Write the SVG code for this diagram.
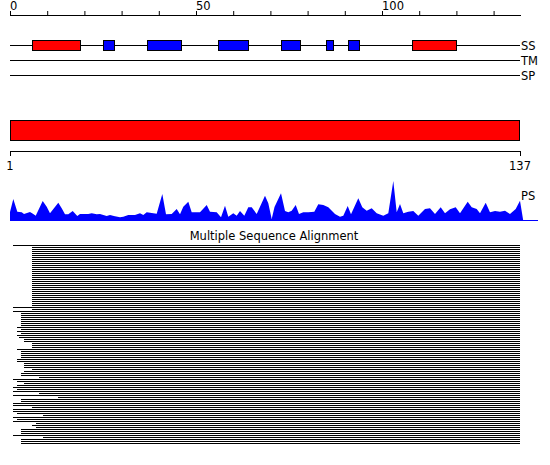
<svg xmlns="http://www.w3.org/2000/svg" width="550" height="465" viewBox="0 0 550 465">
<style>
text{font-family:"DejaVu Sans",Verdana,sans-serif;font-size:11.5px;fill:#000}
.ln{stroke:#000;stroke-width:1;fill:none}
.red{fill:#ff0000;stroke:#000;stroke-width:1}
.blue{fill:#0000ff;stroke:#000;stroke-width:1}
</style>
<rect width="550" height="465" fill="#fff"/>
<g id="ruler">
<path class="ln" d="M10,15.5H521 M10.5,11V15 M47.7,11V15 M84.9,11V15 M122.1,11V15 M159.3,11V15 M196.5,11V15 M233.7,11V15 M270.9,11V15 M308.1,11V15 M345.3,11V15 M382.5,11V15 M419.7,11V15 M456.9,11V15 M494.1,11V15"/>
<text x="10" y="10">0</text>
<text x="196" y="10">50</text>
<text x="382" y="10">100</text>
</g>
<g id="tracks">
<path class="ln" d="M10,45.5H520 M10,60.5H520 M10,75.5H520"/>
<rect class="red" x="32.5" y="40.5" width="48" height="10"/>
<rect class="blue" x="103.5" y="40.5" width="11" height="10"/>
<rect class="blue" x="147.5" y="40.5" width="34" height="10"/>
<rect class="blue" x="218.5" y="40.5" width="30" height="10"/>
<rect class="blue" x="281.5" y="40.5" width="19" height="10"/>
<rect class="blue" x="326.5" y="40.5" width="7" height="10"/>
<rect class="blue" x="348.5" y="40.5" width="11" height="10"/>
<rect class="red" x="412.5" y="40.5" width="44" height="10"/>
<text x="521" y="50">SS</text>
<text x="521" y="65">TM</text>
<text x="521" y="80">SP</text>
</g>
<g id="domain">
<rect class="red" x="10.5" y="120.5" width="509" height="20"/>
<path class="ln" d="M10,151.5H521 M10.5,151V156 M520.5,151V156"/>
<text x="10" y="170" text-anchor="middle">1</text>
<text x="520" y="170" text-anchor="middle">137</text>
</g>
<g id="ps">
<path fill="#0000ff" d="M10,221 L10,212 L13.3,199 L17.3,211.7 L21.7,212.3 L24,214 L30,212 L33.3,214 L35.7,215.7 L42.7,201 L46.7,206.7 L50,213.3 L58.3,202.7 L61.7,208.3 L65,214.3 L68.3,214.3 L72.7,211 L77.3,216 L80,214 L88.3,214 L91.7,213.3 L96.7,214.3 L100,214 L106.7,216 L110,215 L115,216.3 L120,217.3 L123.3,216.7 L128.3,215 L135,215 L140,213.3 L143.3,215 L146.7,212.3 L156.7,213.7 L162.3,194 L166,214.3 L171.7,214 L176.7,209 L180,214.3 L183.3,206.7 L188.3,201.7 L191.7,212.3 L200,212.3 L206.7,205 L210,211.7 L216.7,212.3 L221,217.3 L225,205.7 L228.3,216.7 L233.3,213.3 L236.7,215.7 L240,211 L244.3,215.7 L248.3,207.3 L251.7,207.3 L256.7,214 L265,195.7 L268.3,203.3 L271.7,219 L274.5,207 L281,193.3 L285,211 L288.3,212.3 L291.7,210.7 L295.7,205 L299,214 L303.3,212.3 L308.3,212.3 L314.3,211.7 L318.3,204.3 L323.3,205 L328.3,207.3 L335,214 L340,216.7 L343.3,215.7 L347.7,206 L351,214.3 L358.3,198.3 L362.3,207.3 L366.7,210.7 L371.7,208.3 L376.7,213.3 L383.3,215.7 L388.3,213.3 L393.3,181 L396.7,212.3 L400,204 L403.3,213.3 L408.3,211.7 L413.3,211 L418.3,215.7 L425,209 L430,208.3 L435,214 L440.7,207.3 L445,213.3 L450,209.3 L455.7,207.3 L460,213.3 L467.7,201.7 L471.7,207.3 L476.7,209 L480,213.3 L485.7,202.7 L490,212.3 L495,211 L500,211.7 L505,210.7 L510,214 L515.7,209 L520,200.7 L523.3,221 Z"/>
<path d="M10,220.5H538" stroke="#0000ff" stroke-width="1"/>
<text x="521" y="200">PS</text>
</g>
<g id="msa">
<text x="274" y="240" text-anchor="middle">Multiple Sequence Alignment</text>
<path class="ln" d="M13,245.5H520 M32,247.5H520 M32,249.5H520 M32,251.5H520 M32,253.5H520 M32,255.5H520 M32,257.5H520 M32,259.5H520 M32,261.5H520 M32,263.5H520 M32,265.5H520 M32,267.5H520 M32,269.5H520 M32,271.5H520 M32,273.5H520 M32,275.5H520 M32,277.5H520 M32,279.5H520 M32,281.5H520 M32,283.5H520 M32,285.5H520 M32,287.5H520 M32,289.5H520 M32,291.5H520 M32,293.5H520 M32,295.5H520 M32,297.5H520 M32,299.5H520 M32,301.5H520 M32,303.5H520 M32,305.5H520 M13,307.5H520 M32,309.5H520 M13,311.5H520 M21,313.5H520 M21,315.5H520 M21,317.5H520 M21,319.5H520 M21,321.5H520 M21,323.5H520 M21,325.5H520 M17,327.5H520 M21,329.5H520 M17,331.5H520 M21,333.5H520 M17,335.5H520 M19,337.5H520 M24,339.5H520 M24,341.5H520 M32,343.5H520 M32,345.5H520 M32,347.5H520 M17,349.5H520 M21,351.5H520 M21,353.5H520 M21,355.5H520 M21,357.5H520 M17,359.5H520 M17,361.5H520 M24,363.5H520 M24,365.5H520 M24,367.5H520 M32,369.5H520 M24,371.5H520 M21,373.5H520 M21,375.5H520 M39,377.5H520 M13,379.5H520 M17,381.5H520 M24,383.5H520 M17,385.5H520 M13,387.5H520 M17,389.5H520 M13,391.5H520 M39,393.5H520 M13,395.5H520 M58,397.5H520 M21,399.5H520 M21,401.5H520 M13,403.5H520 M13,405.5H520 M32,407.5H520 M13,409.5H520 M13,411.5H520 M17,413.5H520 M43,415.5H520 M13,417.5H520 M17,419.5H520 M13,421.5H520 M36,423.5H520 M32,425.5H520 M36,427.5H520 M21,429.5H520 M21,431.5H520 M21,433.5H520 M13,435.5H520 M43,437.5H520 M21,439.5H520 M21,441.5H520 M21,443.5H520"/>
</g>
</svg>
